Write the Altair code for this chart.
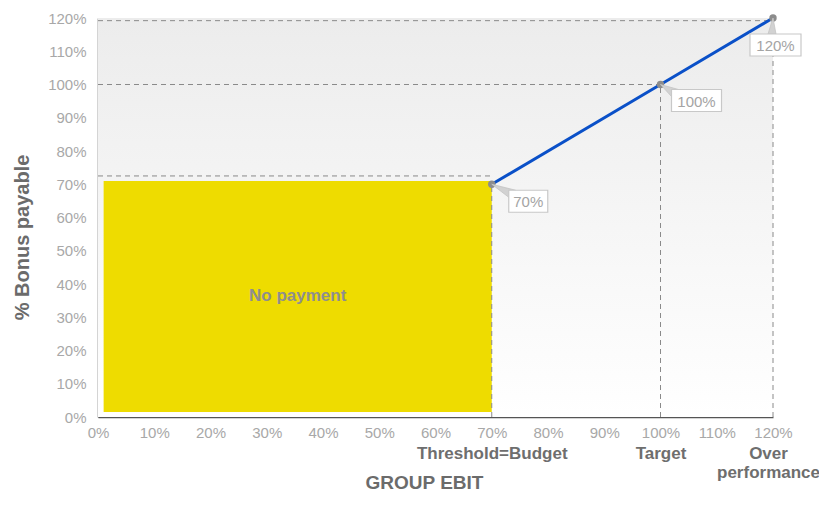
import altair as alt
import pandas as pd

# ---------------- data ----------------
x_ticks = [0, 10, 20, 30, 40, 50, 60, 70, 80, 90, 100, 110, 120]
y_ticks = [0, 10, 20, 30, 40, 50, 60, 70, 80, 90, 100, 110, 120]

pay_ebit = [70, 100, 120]          # GROUP EBIT (%)
pay_bonus = [70, 100, 120]         # % bonus payable
pay_labels = ["70%", "100%", "120%"]
milestones = ["Threshold=Budget", "Target", "Over\nperformance"]

zone_ebit = [1, 70]                # yellow "No payment" block
zone_bonus = [1.5, 71]
zone_text = "No payment"

guide_h_bonus = [72.5, 100, 119.2]  # horizontal dashed guides
guide_h_ebit_end = [70, 100, 120]
guide_v_ebit = [70, 100, 120]       # vertical dashed guides
guide_v_bonus_top = [70, 100, 120]

axis_min, axis_max = 0, 120

# ---------------- tables ----------------
points = pd.DataFrame({"ebit": pay_ebit, "bonus": pay_bonus, "label": pay_labels})
zone = pd.DataFrame({"x": [zone_ebit[0]], "x2": [zone_ebit[1]],
                     "y": [zone_bonus[0]], "y2": [zone_bonus[1]], "text": [zone_text]})
hguides = pd.DataFrame({"x": [axis_min] * len(guide_h_bonus), "x2": guide_h_ebit_end, "y": guide_h_bonus})
vguides = pd.DataFrame({"x": guide_v_ebit, "y": [axis_min] * len(guide_v_ebit), "y2": guide_v_bonus_top})
ms = pd.DataFrame({"ebit": pay_ebit, "bonus": pay_bonus, "name": milestones})
frame = pd.DataFrame({"x": [axis_min], "x2": [axis_max], "y": [axis_min], "y2": [axis_max]})

# ---------------- styling ----------------
FONT = "Liberation Sans"
W, H = 675, 399
xs = alt.Scale(domain=[axis_min, axis_max], nice=False, zero=True)
ys = alt.Scale(domain=[axis_min, axis_max], nice=False, zero=True)

x_axis = alt.Axis(values=x_ticks, labelExpr="datum.value + '%'", title="GROUP EBIT",
                  ticks=False, grid=False, domainColor="#555555", domainWidth=1.5,
                  labelFont=FONT, labelFontSize=15, labelColor="#a8a8a8", labelPadding=8,
                  labelFlush=False, labelOverlap=False,
                  titleFont=FONT, titleFontSize=19, titleFontWeight="bold", titleColor="#6b6b6b",
                  titleX=326, titleY=65, titleBaseline="middle", titleAlign="center")
y_axis = alt.Axis(values=y_ticks, labelExpr="datum.value + '%'", title="% Bonus payable",
                  ticks=False, grid=False, domainColor="#555555", domainWidth=1.5,
                  labelFont=FONT, labelFontSize=15, labelColor="#a8a8a8", labelPadding=12,
                  labelFlush=False, labelOverlap=False,
                  titleFont=FONT, titleFontSize=20, titleFontWeight="bold", titleColor="#6b6b6b",
                  titleX=-76, titleY=219, titleBaseline="middle", titleAlign="center", titleAngle=-90)

grad = alt.Gradient(gradient="linear",
                    stops=[alt.GradientStop(color="#ececec", offset=0),
                           alt.GradientStop(color="#ffffff", offset=1)],
                    x1=0, x2=0, y1=0, y2=1)

def X(field, axis=None):
    return alt.X(field, scale=xs, axis=axis)

def Y(field):
    return alt.Y(field, scale=ys, axis=y_axis)

bg = alt.Chart(frame).mark_rect(color=grad).encode(
    x=X("x:Q", x_axis), x2="x2", y=Y("y:Q"), y2="y2")

block = alt.Chart(zone).mark_rect(color="#eedc00").encode(
    x=X("x:Q"), x2="x2", y=Y("y:Q"), y2="y2")

block_text = alt.Chart(zone).transform_calculate(
    cx="(datum.x + datum.x2) / 2", cy="(datum.y + datum.y2) / 2"
).mark_text(font=FONT, fontSize=17, fontWeight="bold", color="#8e8e8e",
            align="center", baseline="middle").encode(
    x=X("cx:Q"), y=Y("cy:Q"), text="text:N")

dash = dict(strokeDash=[5, 4], color="#8a8a8a", strokeWidth=1)
hrules = alt.Chart(hguides).mark_rule(**dash).encode(x=X("x:Q"), x2="x2", y=Y("y:Q"))
vrules = alt.Chart(vguides).mark_rule(**dash).encode(x=X("x:Q"), y=Y("y:Q"), y2="y2")

line = alt.Chart(points).mark_line(color="#0a50c8", strokeWidth=3).encode(
    x=X("ebit:Q"), y=Y("bonus:Q"))
markers = alt.Chart(points).mark_point(filled=True, color="#8c8c8c", size=55, opacity=1).encode(
    x=X("ebit:Q"), y=Y("bonus:Q"))

# callout geometry (pixels relative to the point): box x0,x1,y0,y1 and wedge path
callout_style = {
    "70%": dict(box=(17, 56, 6, 28), wedge="M0,0 L24,6 L17,13 Z"),
    "100%": dict(box=(11, 61, 5, 27), wedge="M0,0 L18,5 L11,12 Z"),
    "120%": dict(box=(-23, 28, 16, 38), wedge="M0,0 L-5,16 L3,16 Z"),
}

callouts = []
for lab in pay_labels:
    st = callout_style[lab]
    x0, x1, y0, y1 = st["box"]
    box_path = f"M{x0},{y0} L{x1},{y0} L{x1},{y1} L{x0},{y1} Z"
    base = alt.Chart(points).transform_filter(alt.datum.label == lab)
    callouts.append(base.mark_point(shape=st["wedge"], size=4, filled=True, fill="#d2d2d2",
                                    stroke="#c4c4c4", strokeWidth=0.8, opacity=1).encode(
        x=X("ebit:Q"), y=Y("bonus:Q")))
    callouts.append(base.mark_point(shape=box_path, size=4, filled=True, fill="#ffffff",
                                    stroke="#c8c8c8", strokeWidth=1.2, opacity=1).encode(
        x=X("ebit:Q"), y=Y("bonus:Q")))
    callouts.append(base.mark_text(font=FONT, fontSize=15, color="#a4a4a4", align="center",
                                   baseline="middle", dx=(x0 + x1) / 2, dy=(y0 + y1) / 2 + 1
                                   ).encode(text="label:N", x=X("ebit:Q"), y=Y("bonus:Q")))

# second bottom axis carrying the milestone names
def label_literal(s):
    parts = s.split("\n")
    q = ["'" + p.replace("'", "\\'") + "'" for p in parts]
    return q[0] if len(q) == 1 else "[" + ", ".join(q) + "]"

expr = ""
for v, name in zip(pay_ebit, milestones):
    expr += f"datum.value == {v} ? {label_literal(name)} : "
expr += "''"

cat_axis = alt.Axis(values=pay_ebit, labelExpr=expr, orient="bottom", domain=False,
                    ticks=False, grid=False, title=None, labelFont=FONT, labelFontSize=17,
                    labelFontWeight="bold", labelColor="#6e6e6e", labelPadding=28,
                    labelLineHeight=19, labelFlush=False, labelOverlap=False,
                    labelOffset=alt.condition(f"datum.value == {pay_ebit[-1]}", alt.value(-5), alt.value(0)))
cat = alt.Chart(ms).mark_point(opacity=0).encode(x=X("ebit:Q", cat_axis), y=Y("bonus:Q"))

chart = alt.layer(bg, block, block_text, hrules, vrules, line, markers, *callouts, cat
).resolve_scale(x="independent").properties(
    width=W, height=H,
    autosize=alt.AutoSizeParams(type="none"),
    padding={"left": 90, "top": 10, "right": 46, "bottom": 78},
    background="white",
).configure_view(stroke=None)

chart.save("out.html", embed_options={"renderer": "svg", "actions": False})
